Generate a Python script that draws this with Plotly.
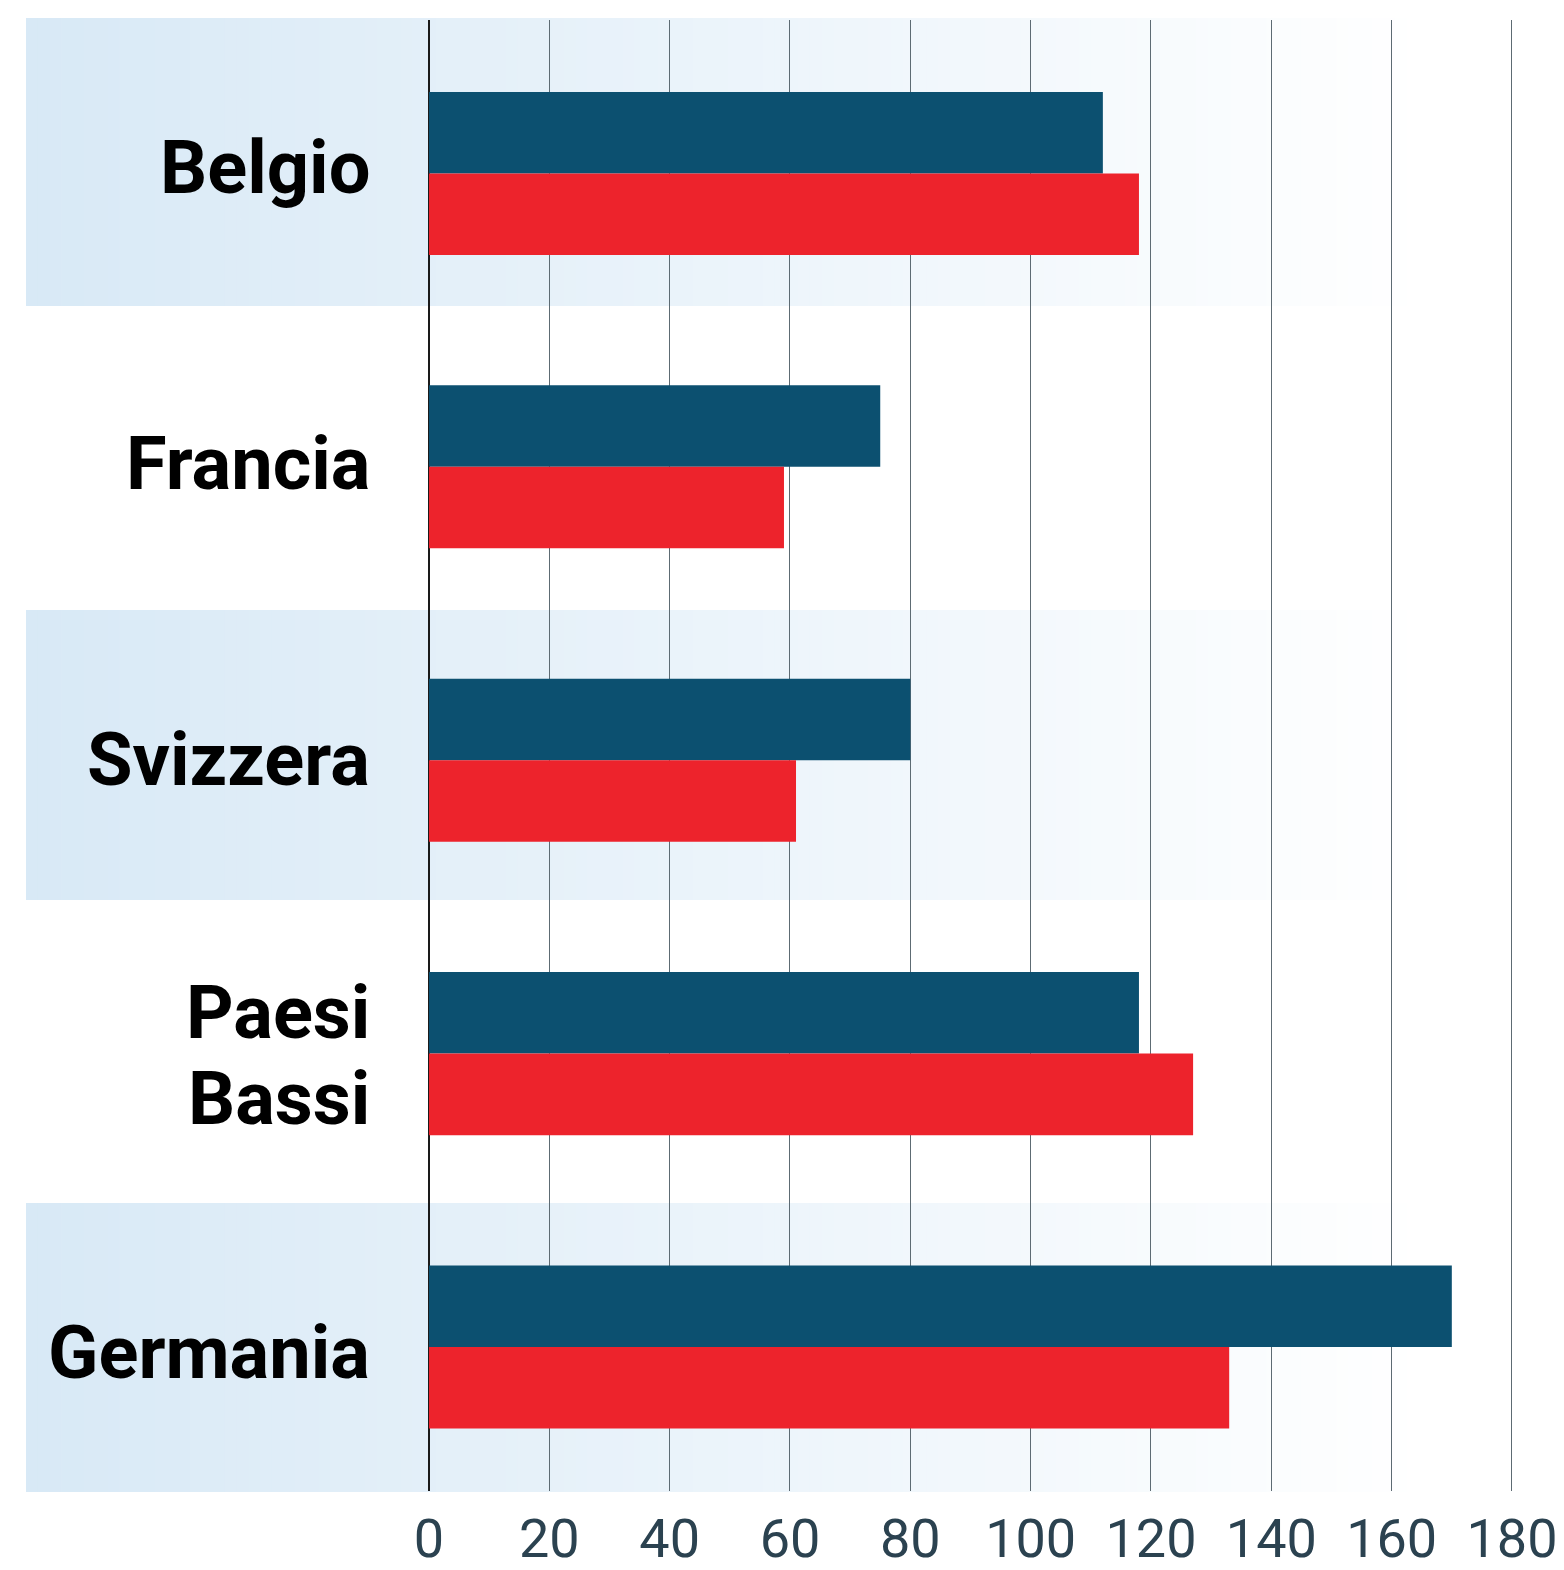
import plotly.graph_objects as go

# ---- data ----
categories = ["Belgio", "Francia", "Svizzera", "Paesi<br>Bassi", "Germania"]
series_blue = [112, 75, 80, 118, 170]
series_red = [118, 59, 61, 127, 133]
x_ticks = [0, 20, 40, 60, 80, 100, 120, 140, 160, 180]

BLUE = "#0c5070"
RED = "#ed232c"

W, H = 1564, 1570
X_MAX = 181
PX_PER_UNIT = (1512 - 429) / 180
PLOT_L = 429
PLOT_R = PLOT_L + X_MAX * PX_PER_UNIT
PLOT_T, PLOT_B = 20, 1491

ROW_TOP, ROW_H = 18, 296.25   # label rows (pixel layout)
LINE_H = 86                    # line spacing for wrapped labels

pos = list(range(len(categories)))

fig = go.Figure()
fig.add_trace(go.Bar(y=pos, x=series_blue, orientation="h", marker=dict(color=BLUE, line=dict(width=0)),
                     name="A", hoverinfo="x"))
fig.add_trace(go.Bar(y=pos, x=series_red, orientation="h", marker=dict(color=RED, line=dict(width=0)),
                     name="B", hoverinfo="x"))

# ---- alternating gradient bands (decoration) ----
def px_x(p):
    return (p - PLOT_L) / (PLOT_R - PLOT_L)

def px_y(p):
    return (PLOT_B - p) / (PLOT_B - PLOT_T)

band_rows_px = [(18, 306), (610, 900), (1203, 1492)]
band_x0, band_x1 = 26, 1430
c0 = (216, 233, 246)
c1 = (255, 255, 255)
steps = 120
shapes = []
for (top, bot) in band_rows_px:
    for k in range(steps):
        f = (k + 0.5) / steps
        col = tuple(round(c0[i] + (c1[i] - c0[i]) * f) for i in range(3))
        xa = band_x0 + (band_x1 - band_x0) * k / steps
        xb = band_x0 + (band_x1 - band_x0) * (k + 1) / steps + 0.8
        shapes.append(dict(type="rect", xref="paper", yref="paper",
                           x0=px_x(xa), x1=px_x(min(xb, band_x1)),
                           y0=px_y(bot), y1=px_y(top),
                           fillcolor="rgb(%d,%d,%d)" % col, line=dict(width=0),
                           layer="below"))

# ---- category labels as annotations (right-aligned left of the axis) ----
annotations = []
for p, label in zip(pos, categories):
    center = ROW_TOP + ROW_H * (p + 0.5) + 1
    lines = label.split("<br>")
    n = len(lines)
    for j, line in enumerate(lines):
        off = (j - (n - 1) / 2) * LINE_H
        annotations.append(dict(
            x=0, xref="paper", xanchor="right", xshift=-57,
            y=px_y(center + off), yref="paper", yanchor="middle",
            text=line, showarrow=False, align="right",
            font=dict(family="Roboto", size=74, color="#000000", weight="bold"),
        ))

fig.update_layout(
    width=W, height=H,
    margin=dict(l=PLOT_L, r=W - PLOT_R, t=PLOT_T, b=H - PLOT_B, pad=0, autoexpand=False),
    paper_bgcolor="white",
    plot_bgcolor="rgba(0,0,0,0)",
    barmode="group",
    bargap=0.444,
    bargroupgap=0,
    showlegend=False,
    shapes=shapes,
    annotations=annotations,
    xaxis=dict(
        range=[0, X_MAX], tickvals=x_ticks, ticktext=[str(v) for v in x_ticks],
        showgrid=True, gridcolor="#5d6b73", gridwidth=1,
        zeroline=True, zerolinecolor="#1a1a1a", zerolinewidth=2,
        showline=False, ticks="", ticklabelstandoff=11,
        tickfont=dict(family="Roboto", size=54, color="#2b4250"),
        fixedrange=True,
    ),
    yaxis=dict(
        range=[4.491, -0.523], tickvals=pos, showticklabels=False,
        showgrid=False, zeroline=False, showline=False, ticks="",
        fixedrange=True,
    ),
)

fig.write_html("out.html", config={"displayModeBar": False},
               post_script="document.body.style.margin='0';document.body.style.overflow='hidden';")
